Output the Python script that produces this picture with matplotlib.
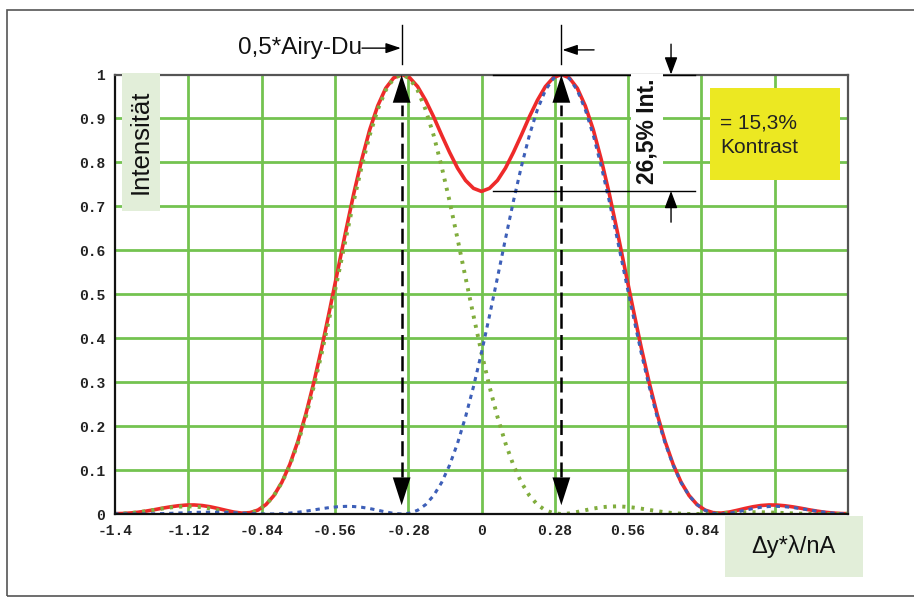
import numpy as np
import matplotlib
matplotlib.use('Agg')
import matplotlib.pyplot as plt
from matplotlib.patches import Rectangle

# ---- data ----
x_pos = np.linspace(-1.403, 1.403, 93)

green = [
    0.0001, 0.0008, 0.0021, 0.0040, 0.0065, 0.0093, 0.0122, 0.0147, 0.0165, 0.0174,
    0.0170, 0.0153, 0.0124, 0.0086, 0.0047, 0.0014, 0.0000, 0.0019, 0.0085, 0.0213,
    0.0419, 0.0715, 0.111, 0.161, 0.221, 0.290, 0.367, 0.451, 0.538, 0.626,
    0.712, 0.791, 0.862, 0.920, 0.964, 0.991,
    1.000,
    0.991, 0.964, 0.920, 0.862, 0.791, 0.712, 0.626, 0.538, 0.451, 0.367,
    0.290, 0.221, 0.161, 0.111, 0.0715, 0.0419, 0.0213, 0.0085, 0.0019, 0.0000,
    0.0014, 0.0047, 0.0086, 0.0124, 0.0153, 0.0170, 0.0174, 0.0165, 0.0147, 0.0122,
    0.0093, 0.0065, 0.0040, 0.0021, 0.0008, 0.0001, 0.0000, 0.0004, 0.0012, 0.0020,
    0.0029, 0.0036, 0.0040, 0.0041, 0.0040, 0.0036, 0.0029, 0.0022, 0.0015, 0.0009,
    0.0004, 0.0001, 0.0000, 0.0001, 0.0003, 0.0006,
]

blue = [
    0.0006, 0.0003, 0.0001, 0.0000, 0.0001, 0.0004,
    0.0009, 0.0015, 0.0022, 0.0029, 0.0036, 0.0040, 0.0041, 0.0040, 0.0036, 0.0029,
    0.0020, 0.0012, 0.0004, 0.0000, 0.0001, 0.0008, 0.0021, 0.0040, 0.0065, 0.0093,
    0.0122, 0.0147, 0.0165, 0.0174, 0.0170, 0.0153, 0.0124, 0.0086, 0.0047, 0.0014,
    0.0000, 0.0019, 0.0085, 0.0213, 0.0419, 0.0715, 0.111, 0.161, 0.221, 0.290,
    0.367, 0.451, 0.538, 0.626, 0.712, 0.791, 0.862, 0.920, 0.964, 0.991,
    1.000,
    0.991, 0.964, 0.920, 0.862, 0.791, 0.712,
    0.626, 0.538, 0.451, 0.367, 0.290, 0.221, 0.161, 0.111, 0.0715, 0.0419,
    0.0213, 0.0085, 0.0019, 0.0000, 0.0014, 0.0047, 0.0086, 0.0124, 0.0153, 0.0170,
    0.0174, 0.0165, 0.0147, 0.0122, 0.0093, 0.0065, 0.0040, 0.0021, 0.0008, 0.0001,
]

red = np.array(green) + np.array(blue)

x_ticks = [-1.4, -1.12, -0.84, -0.56, -0.28, 0, 0.28, 0.56, 0.84, 1.12, 1.4]
# the last two labels are hidden behind the axis-title box in the reference
x_tick_labels = ['-1.4', '-1.12', '-0.84', '-0.56', '-0.28', '0',
                 '0.28', '0.56', '0.84', '', '']
y_ticks = [0, 0.1, 0.2, 0.3, 0.4, 0.5, 0.6, 0.7, 0.8, 0.9, 1.0]
y_tick_labels = ['0', '0.1', '0.2', '0.3', '0.4', '0.5', '0.6', '0.7', '0.8', '0.9', '1']

peak_left, peak_right = -0.305, 0.305
dip_level = 0.735

# ---- figure ----
W, H = 914, 603
fig = plt.figure(figsize=(W / 100, H / 100), dpi=100)
ax = fig.add_axes([115 / W, 1 - 514 / H, 733 / W, 439.5 / H])
ax.set_xlim(-1.4, 1.4)
ax.set_ylim(0, 1)

grid_col = '#74c350'
for xv in x_ticks[1:-1]:
    ax.axvline(xv, color=grid_col, lw=2.0, zorder=1)
for yv in y_ticks[1:-1]:
    ax.axhline(yv, color=grid_col, lw=2.0, zorder=1)

ax.set_xticks(x_ticks)
ax.set_xticklabels(x_tick_labels)
ax.set_yticks(y_ticks)
ax.set_yticklabels(y_tick_labels)
for lab in ax.get_xticklabels() + ax.get_yticklabels():
    lab.set_fontfamily('Liberation Mono')
    lab.set_fontweight('bold')
    lab.set_fontsize(10.5)
    lab.set_color('#222222')
ax.tick_params(length=0, pad=7)

for side in ['left', 'bottom']:
    ax.spines[side].set_color('#111111')
    ax.spines[side].set_linewidth(1.6)
for side in ['top', 'right']:
    ax.spines[side].set_color('#555555')
    ax.spines[side].set_linewidth(1.6)
for sp in ax.spines.values():
    sp.set_zorder(5)

ax.plot(x_pos, red, color='#ee2a2a', lw=2.6, zorder=3, solid_capstyle='round')
ax.plot(x_pos, green, color='#80ad3d', lw=2.8, ls=(0, (0.8, 1.6)), zorder=4)
ax.plot(x_pos, blue, color='#3d5fb8', lw=2.2, ls=(0, (1.4, 1.6)), zorder=4)

# dashed double arrows at the peaks
for pk in (peak_left, peak_right):
    ax.plot([pk, pk], [0.085, 0.93], color='k', lw=1.8, dashes=(6, 2.5), zorder=6)
    big = dict(arrowstyle='-|>,head_length=1.0,head_width=0.32', mutation_scale=20,
               color='k', lw=0, shrinkA=0, shrinkB=0)
    ax.annotate('', xy=(pk, 0.02), xytext=(pk, 0.11), arrowprops=big, zorder=6)
    ax.annotate('', xy=(pk, 0.999), xytext=(pk, 0.91), arrowprops=big, zorder=6)

# dimension marks above the plot
small = dict(arrowstyle='-|>,head_length=0.65,head_width=0.22', mutation_scale=14,
             color='k', lw=1.0, shrinkA=0, shrinkB=0)
ax.plot([peak_left, peak_left], [1.023, 1.113], color='k', lw=1.0, clip_on=False)
ax.annotate('', xy=(peak_left - 0.003, 1.06), xytext=(-0.4565, 1.06),
            arrowprops=small, annotation_clip=False)
ax.text(-0.4565, 1.06, '0,5*Airy-Du', ha='right', va='center', fontsize=17.5,
        family='Liberation Sans', color='#111111')

ax.plot([peak_right, peak_right], [1.023, 1.113], color='k', lw=1.0, clip_on=False)
ax.annotate('', xy=(peak_right + 0.004, 1.056), xytext=(0.43, 1.056),
            arrowprops=small, annotation_clip=False)

# contrast dimension
ax.plot([0.044, 0.815], [1.0, 1.0], color='k', lw=1.0, clip_on=False, zorder=7)
ax.plot([0.044, 0.815], [dip_level, dip_level], color='k', lw=1.0, zorder=7)
small2 = dict(arrowstyle='-|>,head_length=0.75,head_width=0.28', mutation_scale=14,
              color='k', lw=1.0, shrinkA=0, shrinkB=0)
ax.annotate('', xy=(0.724, 1.0), xytext=(0.724, 1.069), arrowprops=small2,
            annotation_clip=False, zorder=7)
ax.annotate('', xy=(0.724, dip_level), xytext=(0.724, 0.664), arrowprops=small2,
            annotation_clip=False, zorder=7)
ax.text(0.632, 0.871, '26,5% Int.', rotation=90, ha='center', va='center',
        fontsize=16.5, fontweight='bold', family='Liberation Sans', color='#111111',
        bbox=dict(facecolor='white', edgecolor='none', pad=3), zorder=8)

# yellow contrast box
ax.add_patch(Rectangle((0.8117, 0.760), 0.1773, 0.209, transform=ax.transAxes,
                       facecolor='#ece822', edgecolor='none', zorder=8, clip_on=False))
ax.text(0.8254, 0.878, '= 15,3%', transform=ax.transAxes, ha='left', va='baseline',
        fontsize=15, family='Liberation Sans', color='#222222', zorder=9)
ax.text(0.8254, 0.821, 'Kontrast', transform=ax.transAxes, ha='left', va='baseline',
        fontsize=15, family='Liberation Sans', color='#222222', zorder=9)

# axis label boxes
ax.add_patch(Rectangle((0.0096, 0.689), 0.0518, 0.314, transform=ax.transAxes,
                       facecolor='#e2eed9', edgecolor='none', zorder=8, clip_on=False))
ax.text(0.0355, 0.846, 'Intensität', transform=ax.transAxes, rotation=90,
        ha='center', va='center', fontsize=18.5, family='Liberation Sans',
        color='#111111', zorder=9)

ax.add_patch(Rectangle((0.832, -0.143), 0.1885, 0.1384, transform=ax.transAxes,
                       facecolor='#e2eed9', edgecolor='none', zorder=10, clip_on=False))
ax.text(0.9256, -0.075, 'Δy*λ/nA', transform=ax.transAxes, ha='center', va='center',
        fontsize=17, family='Liberation Sans', color='#111111', zorder=11)

# outer frame
fig.patches.append(Rectangle((7 / W, 1 - 596 / H), 1.0, 586 / H, transform=fig.transFigure,
                             fill=False, edgecolor='#555555', lw=1.2))

fig.savefig('out.png', dpi=100)
